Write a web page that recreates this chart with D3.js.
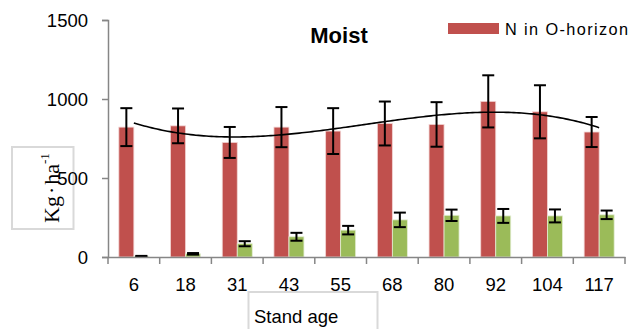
<!DOCTYPE html>
<html>
<head>
<meta charset="utf-8">
<script src="https://cdn.jsdelivr.net/npm/d3@7"></script>
<style>
  html, body { margin: 0; padding: 0; background: #fff; }
  svg { display: block; }
  text { font-family: "Liberation Sans", Arial, sans-serif; fill: #000; }
  text.serif { font-family: "Liberation Serif", "Times New Roman", serif; }
</style>
</head>
<body>
<svg id="chart" width="632" height="329"></svg>
<script>
// Stand ages (categories)
const standAge = ["6", "18", "31", "43", "55", "68", "80", "92", "104", "117"];
// N in O-horizon (kg/ha) and its error
const nOHorizon = [822, 830, 725, 822, 797, 845, 839, 985, 919, 791];
const nOHorizonErr = [120, 110, 98, 127, 145, 139, 141, 165, 168, 95];
// Second series (green) and its error
const nSecond = [5, 20, 84, 128, 170, 235, 264, 260, 260, 267];
const nSecondErr = [2, 5, 16, 25, 27, 46, 36, 44, 41, 27];
// Y axis ticks
const yTicks = [0, 500, 1000, 1500];

const svg = d3.select("#chart");
const red = "#c0504d", green = "#9bbb59", axisGrey = "#868686";

const x = d3.scaleBand().domain(standAge).range([108, 625]).paddingInner(0).paddingOuter(0);
const y = d3.scaleLinear().domain([0, 1500]).range([257, 20]);

const bw = 15; // single bar width
const groupOffset = x.bandwidth() / 2 - bw;

// Y axis title box (behind the tick labels)
svg.append("rect").attr("x", 12).attr("y", 147).attr("width", 61.5).attr("height", 82)
  .attr("fill", "#fff").attr("stroke", "#d9d9d9").attr("stroke-width", 2);

// Bars
const g = svg.append("g");
g.selectAll("rect.red").data(standAge).join("rect")
  .attr("x", (d) => x(d) + groupOffset)
  .attr("y", (d, i) => y(nOHorizon[i]))
  .attr("width", bw)
  .attr("height", (d, i) => y(0) - y(nOHorizon[i]))
  .attr("fill", red).attr("stroke", "#f2d4d3").attr("stroke-width", 0.8);
g.selectAll("rect.green").data(standAge).join("rect")
  .attr("x", (d) => x(d) + groupOffset + bw)
  .attr("y", (d, i) => y(nSecond[i]))
  .attr("width", bw)
  .attr("height", (d, i) => y(0) - y(nSecond[i]))
  .attr("fill", green).attr("stroke", "#e3edd3").attr("stroke-width", 0.8);

// Error bars
function errorBars(vals, errs, offset) {
  const cap = 6;
  standAge.forEach((d, i) => {
    const cx = x(d) + offset;
    const y1 = y(vals[i] + errs[i]), y2 = y(Math.max(0, vals[i] - errs[i]));
    const eg = g.append("g").attr("stroke", "#000").attr("stroke-width", 2);
    eg.append("line").attr("x1", cx).attr("x2", cx).attr("y1", y1).attr("y2", y2);
    eg.append("line").attr("x1", cx - cap).attr("x2", cx + cap).attr("y1", y1).attr("y2", y1);
    eg.append("line").attr("x1", cx - cap).attr("x2", cx + cap).attr("y1", y2).attr("y2", y2);
  });
}
errorBars(nOHorizon, nOHorizonErr, groupOffset + bw / 2);
errorBars(nSecond, nSecondErr, groupOffset + bw * 1.5);

// Polynomial (cubic) least-squares trendline of the red series over category index
function polyFit(xs, ys, deg) {
  const n = deg + 1;
  const A = Array.from({ length: n }, () => new Array(n + 1).fill(0));
  for (let r = 0; r < n; r++) {
    for (let c = 0; c < n; c++) A[r][c] = d3.sum(xs, (xv) => Math.pow(xv, r + c));
    A[r][n] = d3.sum(xs, (xv, k) => ys[k] * Math.pow(xv, r));
  }
  for (let p = 0; p < n; p++) {
    let m = p;
    for (let r = p + 1; r < n; r++) if (Math.abs(A[r][p]) > Math.abs(A[m][p])) m = r;
    [A[p], A[m]] = [A[m], A[p]];
    for (let r = 0; r < n; r++) {
      if (r === p) continue;
      const f = A[r][p] / A[p][p];
      for (let c = p; c <= n; c++) A[r][c] -= f * A[p][c];
    }
  }
  return A.map((row, i) => row[n] / row[i]);
}
const idx = standAge.map((d, i) => i + 1);
const coef = polyFit(idx, nOHorizon, 3);
const poly = (t) => coef.reduce((s, c, k) => s + c * Math.pow(t, k), 0);
const xIdx = d3.scaleLinear().domain([1, 10])
  .range([x(standAge[0]) + x.bandwidth() / 2, x(standAge[9]) + x.bandwidth() / 2]);
const samples = d3.range(1, 10.001, 0.05);
svg.append("path")
  .attr("d", d3.line().x((t) => xIdx(t)).y((t) => y(poly(t)))(samples))
  .attr("fill", "none").attr("stroke", "#000").attr("stroke-width", 1.6);

// Axes
const yAxis = svg.append("g").attr("transform", "translate(108,0)")
  .call(d3.axisLeft(y).tickValues(yTicks).tickSize(6).tickPadding(14).tickFormat(d3.format("d")));
const xAxis = svg.append("g").attr("transform", "translate(0,257)")
  .call(d3.axisBottom(x).tickSize(0).tickPadding(20));
[yAxis, xAxis].forEach((ax) => {
  ax.select(".domain").attr("stroke", axisGrey).attr("stroke-width", 1.5);
  ax.selectAll(".tick line").attr("stroke", axisGrey).attr("stroke-width", 1.5);
  ax.selectAll("text").attr("font-size", 18.5).attr("fill", "#000");
});
yAxis.selectAll("text").attr("dy", "0.35em");
xAxis.selectAll("text").attr("dy", 0).attr("y", 33.5);
// category boundary ticks on x axis
xAxis.selectAll("line.bound").data(standAge.concat(["end"])).join("line")
  .attr("class", "bound")
  .attr("x1", (d, i) => i < standAge.length ? x(d) : x.range()[1])
  .attr("x2", (d, i) => i < standAge.length ? x(d) : x.range()[1])
  .attr("y1", 0).attr("y2", 7)
  .attr("stroke", axisGrey).attr("stroke-width", 1.5);

// Title
svg.append("text").attr("x", 339).attr("y", 43).attr("text-anchor", "middle")
  .attr("font-size", 22).attr("font-weight", "bold").text("Moist");

// Legend
svg.append("rect").attr("x", 448).attr("y", 23).attr("width", 51).attr("height", 11).attr("fill", red);
svg.append("text").attr("x", 505).attr("y", 35).attr("font-size", 16.3)
  .attr("textLength", 123).attr("lengthAdjust", "spacing").text("N in O-horizon");

// Y axis title (rotated, serif)
const yt = svg.append("text").attr("class", "serif")
  .attr("transform", "translate(59,223) rotate(-90)")
  .attr("font-size", 22);
yt.append("tspan").text("Kg");
yt.append("tspan").attr("dx", 2).text("·");
yt.append("tspan").attr("dx", 2).text("ha");
yt.append("tspan").attr("dy", -10).attr("font-size", 13).text("-1");

// X axis title box
svg.append("rect").attr("x", 248.5).attr("y", 292).attr("width", 129).attr("height", 45)
  .attr("fill", "#fff").attr("stroke", "#d9d9d9").attr("stroke-width", 2);
svg.append("text").attr("x", 254).attr("y", 323).attr("font-size", 18.5).text("Stand age");
</script>
</body>
</html>
